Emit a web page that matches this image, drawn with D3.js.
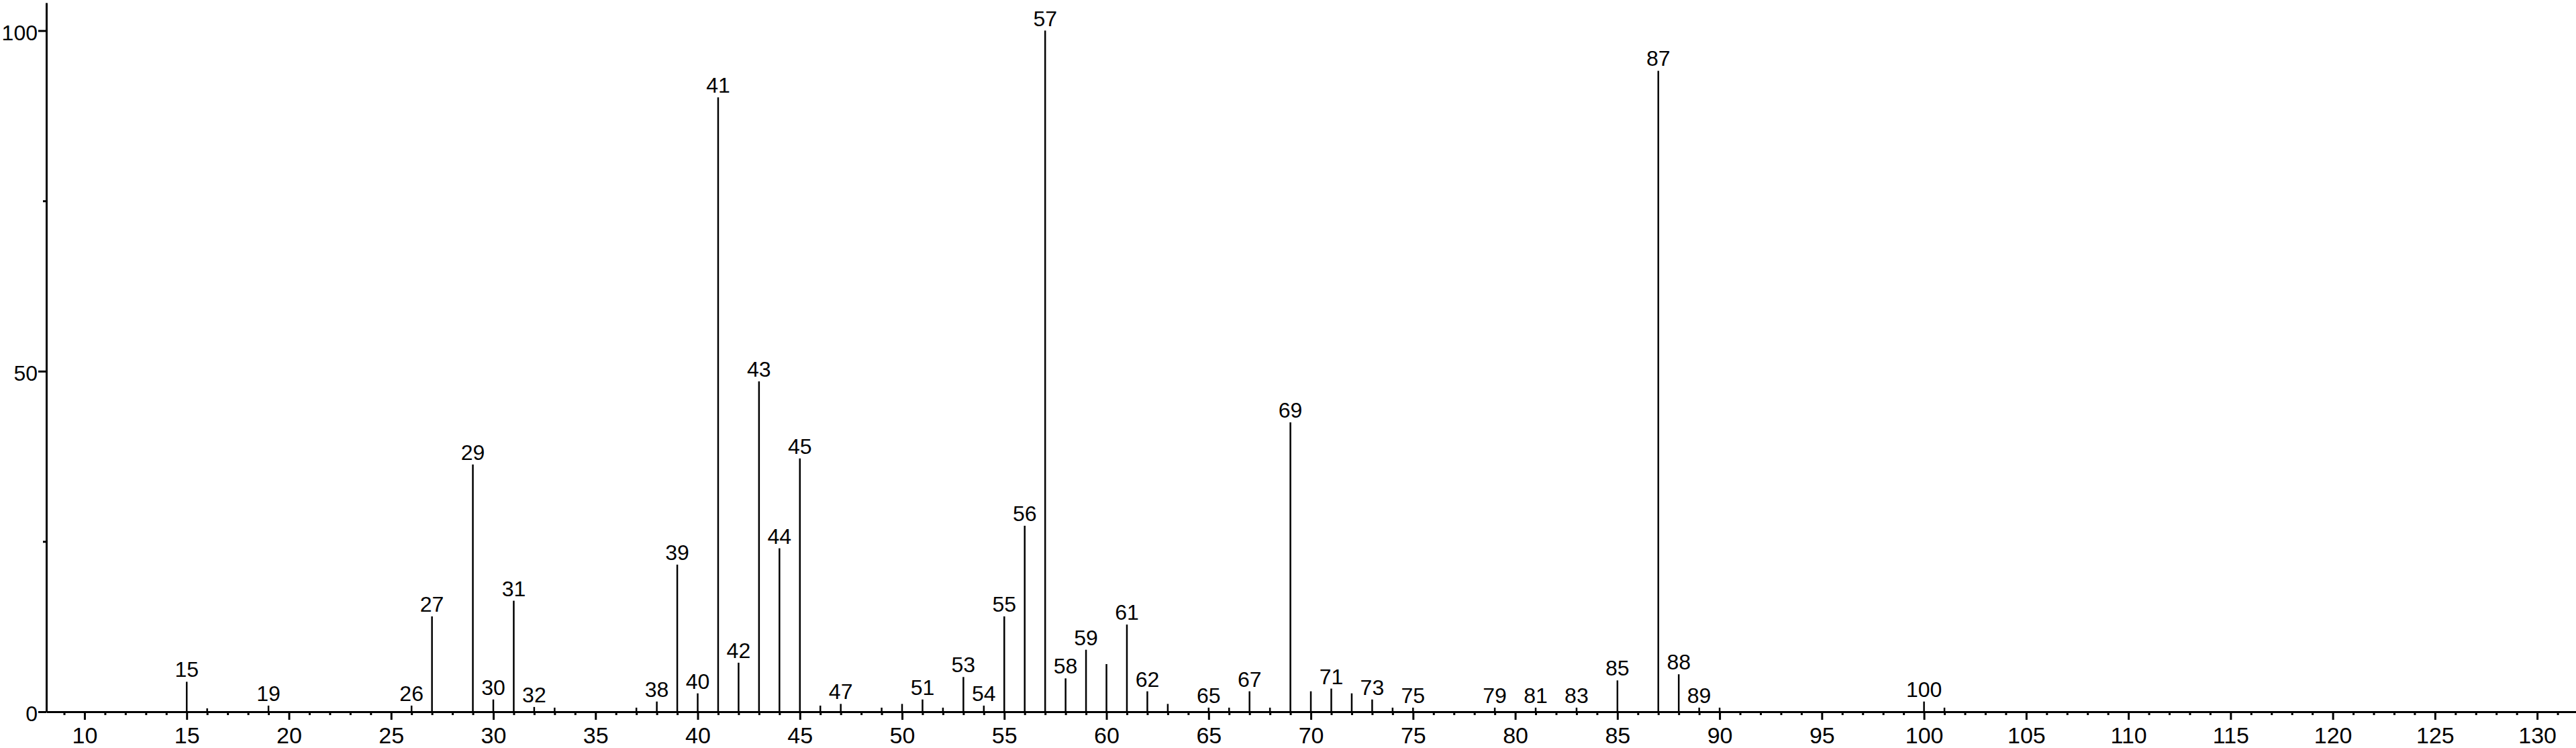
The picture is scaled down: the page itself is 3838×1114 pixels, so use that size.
<!DOCTYPE html>
<html>
<head>
<meta charset="utf-8">
<script src="https://cdn.jsdelivr.net/npm/d3@7"></script>
<style>
  html, body { margin: 0; padding: 0; background: #fff; }
  svg { display: block; }
  text { font-family: "Liberation Sans", Arial, sans-serif; fill: #000; }
</style>
</head>
<body>
<div id="chart"></div>
<script>
// m/z values of the peaks
const masses = [15, 16, 19, 26, 27, 29, 30, 31, 32, 33, 37, 38, 39, 40, 41, 42, 43, 44, 45, 46, 47, 49, 50, 51, 52, 53, 54, 55, 56, 57, 58, 59, 60, 61, 62, 63, 65, 66, 67, 68, 69, 70, 71, 72, 73, 74, 75, 79, 81, 83, 85, 87, 88, 89, 90, 100, 101];
// relative intensities (%)
const intensities = [4.4, 0.5, 0.9, 0.9, 14.0, 36.3, 1.8, 16.3, 0.7, 0.6, 0.6, 1.5, 21.6, 2.7, 90.2, 7.2, 48.5, 24.0, 37.2, 0.9, 1.15, 0.6, 1.15, 1.8, 0.6, 5.1, 0.9, 14.0, 27.3, 100, 4.9, 9.1, 7.0, 12.8, 3.0, 1.15, 0.6, 0.6, 3.0, 0.6, 42.5, 3.0, 3.4, 2.7, 1.8, 0.6, 0.6, 0.6, 0.6, 0.6, 4.6, 94.1, 5.5, 0.6, 0.6, 1.5, 0.6];
// peaks that carry an m/z label
const labeledMasses = [15, 19, 26, 27, 29, 30, 31, 32, 38, 39, 40, 41, 42, 43, 44, 45, 47, 51, 53, 54, 55, 56, 57, 58, 59, 61, 62, 65, 67, 69, 71, 73, 75, 79, 81, 83, 85, 87, 88, 89, 100];
// axis ticks
const xMajorTicks = [10, 15, 20, 25, 30, 35, 40, 45, 50, 55, 60, 65, 70, 75, 80, 85, 90, 95, 100, 105, 110, 115, 120, 125, 130];
const yMajorTicks = [0, 50, 100];
const yMinorTicks = [25, 75];

const W = 3838, H = 1114;
const svg = d3.select("#chart").append("svg").attr("width", W).attr("height", H);

const x = d3.scaleLinear().domain([8.13, 131.9]).range([69, 3838]);
const y = d3.scaleLinear().domain([0, 104.1]).range([1060, 4]);

const peaks = masses.map((m, i) => ({ m, v: intensities[i], labeled: labeledMasses.includes(m) }));

// minor x ticks
const xMinor = d3.range(9, 132).filter(v => v % 5 !== 0);
const gxMinor = svg.append("g").attr("transform", `translate(0,${y(0)})`)
  .call(d3.axisBottom(x).tickValues(xMinor).tickSize(5).tickSizeOuter(0).tickFormat(""));
gxMinor.select(".domain").remove();
gxMinor.selectAll(".tick line").attr("stroke", "#000").attr("stroke-width", 3);

// major x axis
const gx = svg.append("g").attr("transform", `translate(0,${y(0)})`)
  .call(d3.axisBottom(x).tickValues(xMajorTicks).tickSize(12).tickSizeOuter(0).tickFormat(d3.format("d")));
gx.select(".domain").attr("stroke", "#000").attr("stroke-width", 3);
gx.selectAll(".tick line").attr("stroke", "#000").attr("stroke-width", 3);
gx.selectAll(".tick text").attr("y", 23).attr("font-size", 34).attr("font-family", "Liberation Sans, Arial, sans-serif");

// minor y ticks
const gyMinor = svg.append("g").attr("transform", `translate(${x.range()[0]},0)`)
  .call(d3.axisLeft(y).tickValues(yMinorTicks).tickSize(5).tickSizeOuter(0).tickFormat(""));
gyMinor.select(".domain").remove();
gyMinor.selectAll(".tick line").attr("stroke", "#000").attr("stroke-width", 3);

// major y axis
const gy = svg.append("g").attr("transform", `translate(${x.range()[0]},0)`)
  .call(d3.axisLeft(y).tickValues(yMajorTicks).tickSize(12).tickSizeOuter(0).tickFormat(d3.format("d")));
gy.select(".domain").attr("stroke", "#000").attr("stroke-width", 3);
gy.selectAll(".tick line").attr("stroke", "#000").attr("stroke-width", 3);
gy.selectAll(".tick text").attr("x", -13).attr("dy", "0.42em").attr("font-size", 32).attr("font-family", "Liberation Sans, Arial, sans-serif");

// stems
svg.append("g").selectAll("line").data(peaks).join("line")
  .attr("x1", d => x(d.m)).attr("x2", d => x(d.m))
  .attr("y1", y(0)).attr("y2", d => y(d.v))
  .attr("stroke", "#000").attr("stroke-width", 2.5);

// labels
svg.append("g").selectAll("text").data(peaks.filter(d => d.labeled)).join("text")
  .attr("x", d => x(d.m)).attr("y", d => y(d.v) - 7)
  .attr("text-anchor", "middle").attr("font-size", 32)
  .text(d => d.m);
</script>
</body>
</html>
